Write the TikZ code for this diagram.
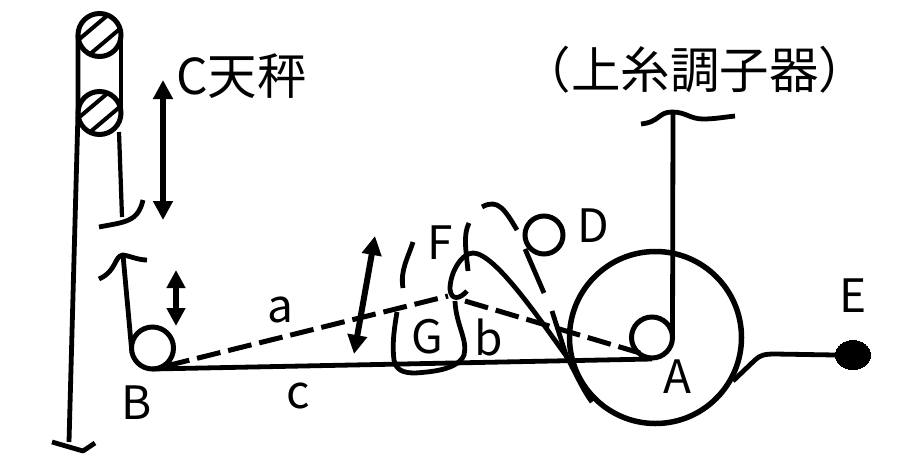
\documentclass[tikz,border=0pt]{standalone}
\usepackage{fontspec}
\setmainfont{Noto Sans CJK JP}
\usetikzlibrary{arrows.meta,shapes.geometric}
\tikzset{
  thread/.style={line width=4.8pt,line cap=butt,line join=round},
  thin thread/.style={line width=4.2pt,line cap=butt,line join=round},
  dashthread/.style={line width=5pt,dash pattern=on 24pt off 8pt},
  wheel/.style={circle,draw,line width=5pt,inner sep=0pt,outer sep=0pt},
  lbl/.style={inner sep=0pt,font=\fontsize{46pt}{46pt}\selectfont},
  cjk/.style={inner sep=0pt,font=\fontsize{49.5pt}{49.5pt}\selectfont},
  bigarrow/.style={line width=6pt,{Triangle[width=19pt,length=19pt]}-{Triangle[width=19pt,length=19pt]}},
  hatch/.style={line width=4pt}
}
\begin{document}
\begin{tikzpicture}[x=1pt,y=-1pt]
\useasboundingbox (0,0) rectangle (921,472);
% pulleys with hatching
\begin{scope}
\clip (99.5,35) circle (21pt);
\foreach \d in {-20,-7,6,19}{\draw[hatch] (99.5-26+\d,35+22+\d) -- (99.5+26+\d,35-22+\d);}
\end{scope}
\begin{scope}
\clip (99.5,113) circle (21pt);
\foreach \d in {-20,-7,6,19}{\draw[hatch] (99.5-26+\d,113+22+\d) -- (99.5+26+\d,113-22+\d);}
\end{scope}
\node[wheel,minimum size=43pt] (P1) at (99.5,35) {};
\node[wheel,minimum size=43pt] (P2) at (99.5,113) {};
\node[wheel,minimum size=42pt] (B) at (152.5,348) {};
\node[wheel,minimum size=41pt] (A) at (652,337.5) {};
\node[wheel,minimum size=172pt,line width=5.5pt] (W) at (655.5,337.5) {};
\node[wheel,minimum size=38pt] (D) at (544,235) {};
\node[ellipse,fill,draw,inner sep=0pt,minimum width=35pt,minimum height=29pt,line width=0pt] (Ek) at (853,355) {};
% coordinates
\coordinate (Lbot) at (69,442);
\coordinate (Rhook) at (122,217);
\coordinate (Btop) at (123,255);
\coordinate (Atop) at (673,114);
\coordinate (Meet) at (448,296);
% left strands
\draw[thread] (P1.west) -- (P2.west) -- (Lbot);
\draw[thread] (P1.east) -- (P2.east);
\draw[thin thread] (119,132) -- (Rhook);
\draw[thread] (99,227) .. controls (125,222) and (138,222) .. (143,200);
\draw[thread] (52,442) -- (83,451) -- (95,443);
% B thread
\draw[thread] (99,279) .. controls (117,271) and (114,256) .. (Btop) .. controls (130,256) and (138,260) .. (147,260);
\draw[thread] (Btop) -- (B.west);
\draw[thread] (152.5,369) -- (652,359);
% vertical to A
\draw[thread] (Atop) -- (A.east);
\draw[thread] (641,124) .. controls (660,122) and (658,112) .. (672,112) .. controls (686,112) and (690,119) .. (703,119) .. controls (715,119) and (725,117) .. (735,116);
% dashed a and b
\draw[dashthread] (166,366) -- (Meet);
\draw[dashthread] (465,301) -- (640,353);
% F curve
\draw[thread] (467,291) .. controls (460,299) and (451,301) .. (450,289) .. controls (450,272) and (462,253) .. (473,253) .. controls (495,253) and (540,320) .. (567,357) .. controls (575,372) and (583,390) .. (592,402);
\draw[thread] (552,311) -- (567,358);
\draw[thread] (525,249) -- (544,293);
\draw[thread] (482,207) .. controls (498,198) and (505,210) .. (517,230);
\draw[thread] (413,242) .. controls (408,258) and (400,270) .. (403,288);
\draw[thread] (469,223) .. controls (463,235) and (466,250) .. (468,271);
% G loop
\draw[thread] (455,301) .. controls (456,325) and (468,340) .. (464,355) .. controls (458,370) and (430,372) .. (415,373) .. controls (403,373) and (396,370) .. (394,360) .. controls (392,345) and (394,330) .. (397,312);
% arrows
\draw[bigarrow] (163,80) -- (163,220);
\draw[line width=6pt,{Triangle[width=18pt,length=18pt]}-{Triangle[width=18pt,length=18pt]}] (176,270) -- (176,326);
\draw[bigarrow] (375,236) -- (354,354);
% E lead
\draw[thread] (733,381) -- (755,360) .. controls (760,355) and (765,354) .. (775,354) -- (Ek.west);
% labels
\node[cjk,anchor=west] (Ct) at (176,76) {C天秤};
\node[cjk] (Top) at (695,70) {（上糸調子器）};
\node[lbl] (la) at (280,310) {a};
\node[lbl] (lb) at (489,337) {b};
\node[lbl] (lc) at (298,396) {c};
\node[lbl] (lA) at (677,377) {A};
\node[lbl] (lB) at (137,403) {B};
\node[lbl] (lD) at (593,226) {D};
\node[lbl] (lE) at (853,296) {E};
\node[lbl] (lF) at (440,243) {F};
\node[lbl] (lG) at (427,337) {G};
\end{tikzpicture}
\end{document}
